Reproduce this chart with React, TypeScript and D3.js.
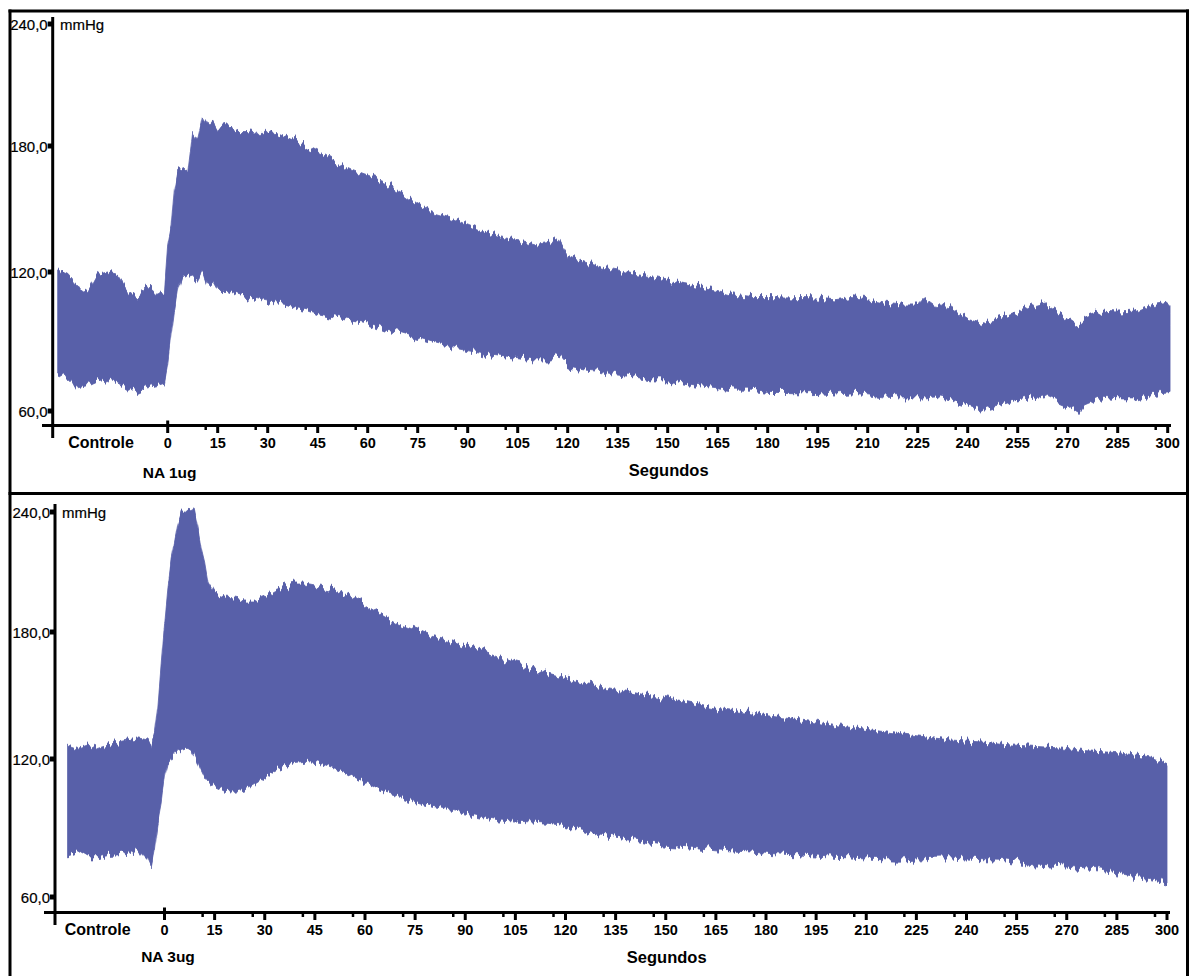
import React from 'react';
import * as d3 from 'd3';

// ---------- data ----------
const X_TICKS = [0, 15, 30, 45, 60, 75, 90, 105, 120, 135, 150, 165, 180, 195, 210, 225, 240, 255, 270, 285, 300];
const Y_TICKS = [60, 120, 180, 240];
const Y_TICK_LABELS = ['60,0', '120,0', '180,0', '240,0'];
const CONTROL_LABEL = 'Controle';
const CONTROL_T = -20;
const X_TITLE = 'Segundos';
const Y_UNIT = 'mmHg';
const TOP_DOSE = 'NA 1ug';
const BOTTOM_DOSE = 'NA 3ug';

// Top panel (NA 1ug): time (s), systolic envelope, diastolic envelope (mmHg)
const TOP_T = [-33, -30, -27, -24, -21, -18, -15, -12, -9, -6, -3, -1, 0, 1, 2, 3, 4.5, 6, 7.5, 9, 10.5, 12, 13.5, 15,
  18, 21, 24, 27, 30, 33, 36, 39, 42, 45,
  50, 55, 60, 65, 70, 75, 80, 85, 90, 95, 100, 105, 110, 115, 117,
  120, 125, 130, 135, 140, 145, 150, 155, 160, 165, 170, 175, 180, 185, 190, 195, 200, 205, 210, 215, 220, 225, 227,
  230, 235, 240, 245, 250, 255, 260, 263, 265, 270, 273, 275, 280, 285, 290, 295, 300, 300.7];
const TOP_SYS = [121, 119, 114, 111, 119, 120, 119, 112, 109, 114, 110, 112, 133, 141, 160, 168, 169, 167, 186.7, 183, 193.8, 190, 192.8, 188.6,
  190, 187.6, 187.6, 186.7, 186.7, 186, 184, 182, 179, 176.7,
  172.4, 168.6, 165.7, 162.4, 158, 152, 148, 145.7, 142.4, 139, 136.7, 135, 133, 134.3, 136,
  128, 124.8, 122.4, 121, 119, 118, 116.5, 115, 113.5, 112, 110, 109, 109, 108.8, 109, 108.8, 108, 109, 108, 106.6, 105.8, 105.8, 108.8,
  105.8, 104.5, 100, 98, 100, 102.7, 105.8, 107, 104.5, 100, 97, 100, 102.7, 102.3, 102.7, 105.8, 107, 106];
const TOP_DIA = [75.5, 74, 70, 71, 73, 74, 72.5, 70, 68, 70, 71, 72, 80, 92, 103, 112, 118.7, 118, 118.7, 116, 120, 114, 116, 112,
  112, 110, 108.8, 108, 107, 106.6, 105.8, 104.5, 103.6, 102,
  100.6, 99.3, 98, 95, 93.8, 91.7, 89.5, 87.8, 86.5, 85, 84, 83, 82, 82, 84,
  79, 77.7, 77, 75.5, 74.7, 73.4, 73.4, 72, 70.8, 70, 69, 69, 68, 68, 67.8, 68, 67.3, 67.8, 67, 66, 65.6, 65.6, 65.6,
  66, 64.8, 62.6, 60.4, 62.6, 64.8, 66, 67, 65.6, 62.6, 59.6, 62.6, 65.6, 64.8, 64.8, 67, 67.8, 68];

// Bottom panel (NA 3ug)
const BOTTOM_T = [-29, -26, -23, -20, -17, -14, -11, -8, -5, -4, -3, -2, -1, 0, 1, 2, 3, 4, 5, 6, 7, 8, 9, 10, 11, 12, 13, 15,
  18, 21, 24, 27, 30, 33, 36, 39, 42, 45, 48, 51, 54, 57, 60,
  65, 70, 75, 80, 85, 90, 95, 100, 105, 110, 115, 120, 125, 130, 135, 140, 145, 150, 155, 160, 165, 170, 175, 180,
  185, 190, 195, 200, 205, 210, 215, 220, 225, 230, 235, 240, 245, 250, 255, 260, 265, 270, 275, 280, 285, 290, 295, 300];
const BOTTOM_SYS = [126.6, 125, 126.6, 125, 126.6, 128, 129, 130, 129, 127, 132, 145, 165, 185, 203, 216, 225, 234, 239.5, 239.5, 241, 242.5, 240, 232, 222, 215, 205, 199,
  197.5, 197, 196, 196, 198, 201, 203, 204, 204, 203, 202, 201, 199, 197, 194,
  189, 184, 181, 178, 176, 173, 171, 168, 165, 163, 160, 158, 156, 154.5, 153, 151.5, 150, 148.5, 147, 145.5, 144, 143, 142, 140.5,
  139.5, 138.5, 137.5, 136, 135, 134, 133, 132, 131, 130, 129, 128.5, 128, 127, 126.5, 126, 125.5, 125, 124, 123.5, 123, 122, 121, 118];
const BOTTOM_DIA = [78.3, 79.6, 77, 77, 78, 78.3, 79, 80.4, 76, 72.6, 80, 92, 100, 112, 118, 120, 122, 124, 124.5, 125, 125, 124, 121, 118, 115, 112, 110, 108,
  106, 105.5, 106.5, 109, 112, 115, 117, 118.5, 119, 118.5, 117.5, 116, 114.5, 112, 110,
  106, 104, 101.5, 99.5, 98, 96.5, 95, 93.5, 93, 92.6, 92, 91, 89.5, 87, 86, 85, 83.5, 82.5, 82, 81.3, 80.5, 80, 79.6, 79,
  78.6, 78.3, 77.8, 77.3, 77, 76.5, 76.2, 76, 76.5, 76.8, 77, 76.5, 76.2, 76, 75, 74, 73.5, 73, 72.3, 71.7, 70.5, 69, 68, 66.5];

// ---------- drawing ----------
const FONT = "'Liberation Sans', Arial, Helvetica, sans-serif";
const TRACE = '#5860a9';

type Layout = {
  xRange: [number, number];
  yRange: number[];
  yAxisX: number;
  yAxisTop: number;
  yAxisBottom: number;
  xAxisY: number;
  xAxisLeft: number;
  xAxisRight: number;
  tickLabelY: number;
  doseY: number;
  titleY: number;
  unitX: number;
  doseDx: number;
};

function Panel({ t, sys, dia, dose, L }: { t: number[]; sys: number[]; dia: number[]; dose: string; L: Layout }) {
  const x = d3.scaleLinear().domain([0, 300]).range(L.xRange);
  const y = d3.scaleLinear().domain(Y_TICKS).range(L.yRange);
  const area = d3
    .area<number>()
    .x((d) => x(d))
    .y0((_, i) => y(dia[i]))
    .y1((_, i) => y(sys[i]))
    .curve(d3.curveLinear);
  return (
    <g>
      <path d={area(t) || ''} fill={TRACE} stroke={TRACE} strokeWidth={0.8} filter="url(#beats)" />
      {/* y axis */}
      <line x1={L.yAxisX} x2={L.yAxisX} y1={L.yAxisTop} y2={L.yAxisBottom} stroke="#000" strokeWidth={3} />
      {Y_TICKS.map((v, i) => (
        <g key={v}>
          <line x1={L.yAxisX - 5} x2={L.yAxisX} y1={y(v)} y2={y(v)} stroke="#000" strokeWidth={5} />
          <text x={L.yAxisX - 5} y={y(v) + 5.5} textAnchor="end" fontFamily={FONT} fontSize={15} fill="#000" stroke="#000" strokeWidth={0.2}>
            {Y_TICK_LABELS[i]}
          </text>
        </g>
      ))}
      <text x={L.unitX} y={y(240) + 5.5} fontFamily={FONT} fontSize={15} fill="#000" stroke="#000" strokeWidth={0.2}>
        {Y_UNIT}
      </text>
      {/* x axis */}
      <line x1={L.xAxisLeft} x2={L.xAxisRight} y1={L.xAxisY} y2={L.xAxisY} stroke="#000" strokeWidth={3} />
      {X_TICKS.map((v) => (
        <g key={v}>
          <line
            x1={x(v)}
            x2={x(v)}
            y1={v === 0 ? L.xAxisY - 5 : L.xAxisY}
            y2={L.xAxisY + 7.5}
            stroke="#000"
            strokeWidth={3}
          />
          {v > 0 && (
            <line x1={x(v) - 12} x2={x(v) - 12} y1={L.xAxisY} y2={L.xAxisY + 4.5} stroke="#000" strokeWidth={2.5} />
          )}
          <text x={x(v)} y={L.tickLabelY} textAnchor="middle" fontFamily={FONT} fontWeight="bold" fontSize={14.5} fill="#000">
            {v}
          </text>
        </g>
      ))}
      <text x={x(CONTROL_T)} y={L.tickLabelY} textAnchor="middle" fontFamily={FONT} fontWeight="bold" fontSize={16} fill="#000">
        {CONTROL_LABEL}
      </text>
      <text x={x(0) + L.doseDx} y={L.doseY} textAnchor="middle" fontFamily={FONT} fontWeight="bold" fontSize={15.5} fill="#000">
        {dose}
      </text>
      <text x={x(150) + 1} y={L.titleY} textAnchor="middle" fontFamily={FONT} fontWeight="bold" fontSize={16.5} fill="#000">
        {X_TITLE}
      </text>
    </g>
  );
}

const TOP_LAYOUT: Layout = {
  xRange: [167.7, 1167.7],
  yRange: [411, 272, 146, 24],
  yAxisX: 52.7,
  yAxisTop: 17,
  yAxisBottom: 438,
  xAxisY: 425.5,
  xAxisLeft: 42,
  xAxisRight: 1171,
  tickLabelY: 448,
  doseY: 477.5,
  titleY: 476,
  unitX: 60,
  doseDx: 2,
};

const BOTTOM_LAYOUT: Layout = {
  xRange: [164.5, 1167],
  yRange: [897, 759, 632, 512],
  yAxisX: 55,
  yAxisTop: 504,
  yAxisBottom: 925,
  xAxisY: 912.5,
  xAxisLeft: 44,
  xAxisRight: 1170,
  tickLabelY: 935,
  doseY: 962,
  titleY: 963,
  unitX: 62,
  doseDx: 3.5,
};

export default function App() {
  return (
    <svg
      width={1192}
      height={976}
      viewBox="0 0 1192 976"
      style={{ position: 'absolute', left: 0, top: 0, background: '#fff' }}
    >
      <defs>
        {/* vertical-only jitter of the trace edges, imitating the individual pulse peaks */}
        <filter id="beats" x="0" y="0" width="1192" height="976" filterUnits="userSpaceOnUse" colorInterpolationFilters="sRGB">
          <feTurbulence type="fractalNoise" baseFrequency="0.3 0.004" numOctaves={2} seed={3} result="noise" />
          <feColorMatrix
            in="noise"
            type="matrix"
            values="1 0 0 0 0  0 0 0 0 0.5  0 0 0 0 0  0 0 0 0 1"
            result="vnoise"
          />
          <feDisplacementMap in="SourceGraphic" in2="vnoise" scale={16} xChannelSelector="G" yChannelSelector="R" />
        </filter>
      </defs>
      <rect x={0} y={0} width={1192} height={976} fill="#fff" />
      <Panel t={TOP_T} sys={TOP_SYS} dia={TOP_DIA} dose={TOP_DOSE} L={TOP_LAYOUT} />
      <Panel t={BOTTOM_T} sys={BOTTOM_SYS} dia={BOTTOM_DIA} dose={BOTTOM_DOSE} L={BOTTOM_LAYOUT} />
      {/* frame */}
      <line x1={10} x2={10} y1={9.5} y2={976} stroke="#000" strokeWidth={3} />
      <line x1={1187.5} x2={1187.5} y1={9.5} y2={976} stroke="#000" strokeWidth={3} />
      <line x1={8.5} x2={1189} y1={11} y2={11} stroke="#000" strokeWidth={3} />
      <line x1={8.5} x2={1189} y1={493.5} y2={493.5} stroke="#000" strokeWidth={3} />
    </svg>
  );
}
